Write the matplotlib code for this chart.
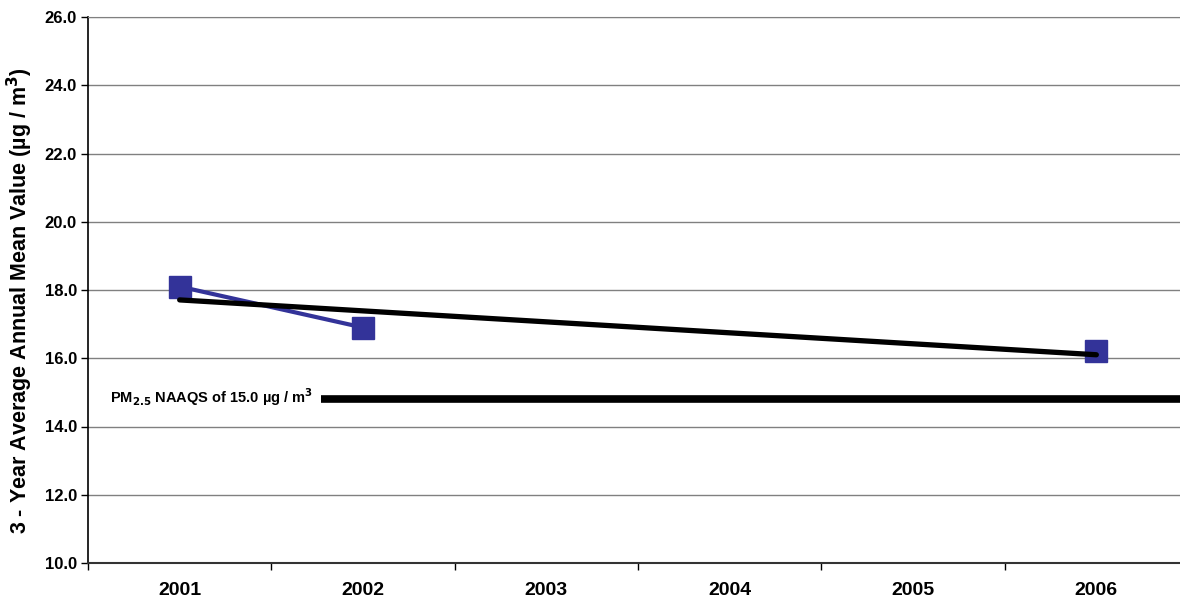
import numpy as np
import matplotlib
matplotlib.use("Agg")
import matplotlib.pyplot as plt

plt.rcParams['font.family'] = ['Liberation Sans', 'DejaVu Sans']

years = ["2001", "2002", "2003", "2004", "2005", "2006"]
values = [18.1, 16.9, np.nan, np.nan, np.nan, 16.2]
naaqs_level = 14.8
yticks = [10.0, 12.0, 14.0, 16.0, 18.0, 20.0, 22.0, 24.0, 26.0]

W, H = 1180, 607
fig = plt.figure(figsize=(W / 100, H / 100), dpi=100)
left, right, top, bottom = 88, 1188, 17, 563
ax = fig.add_axes([left / W, 1 - bottom / H, (right - left) / W, (bottom - top) / H])

x = np.arange(len(years))
ax.set_xlim(-0.5, len(years) - 0.5)
ax.set_ylim(10, 26)

for yv in yticks[1:]:
    ax.axhline(yv, color="#808080", lw=1.0, zorder=1)

# NAAQS line
ax.plot([0.77, 5.5], [naaqs_level, naaqs_level], color="black", lw=5.5, solid_capstyle="butt", zorder=2)
ax.text(-0.38, naaqs_level + 0.05, r"PM$_{\mathbf{2.5}}$ NAAQS of 15.0 µg / m$^{\mathbf{3}}$",
        fontsize=10.5, fontweight="bold", va="center", ha="left")

# data series
ax.plot(x, values, color="#333399", lw=3, marker="s", markersize=16, zorder=3)

# linear trend
xs = np.array([i for i, v in enumerate(values) if not np.isnan(v)])
ys = np.array([v for v in values if not np.isnan(v)])
k, b = np.polyfit(xs, ys, 1)
ax.plot([xs.min(), xs.max()], [k * xs.min() + b, k * xs.max() + b], color="black", lw=3.8,
        solid_capstyle="round", zorder=4)

ax.set_yticks(yticks)
ax.set_yticklabels([f"{v:.1f}" for v in yticks], fontsize=12, fontweight="bold")
ax.set_xticks(x)
ax.set_xticklabels(years, fontsize=14, fontweight="bold")
ax.tick_params(axis="x", length=0, pad=14)
ax.set_xticks(np.arange(-0.5, len(years), 1.0), minor=True)
ax.tick_params(axis="x", which="minor", length=5, direction="out", width=1)
ax.tick_params(axis="y", length=5, direction="out", width=1, pad=3)

ax.spines["top"].set_color("#808080")
ax.spines["right"].set_visible(False)
ax.spines["left"].set_linewidth(1.2)
ax.spines["bottom"].set_color("#333333")
ax.spines["bottom"].set_linewidth(1.5)

ax.set_ylabel(r"3 - Year Average Annual Mean Value (µg / m$^{\mathbf{3}}$)", fontsize=15.5,
              fontweight="bold")
ax.yaxis.set_label_coords(-0.048, 0.48)

fig.savefig("out.png", dpi=100)
